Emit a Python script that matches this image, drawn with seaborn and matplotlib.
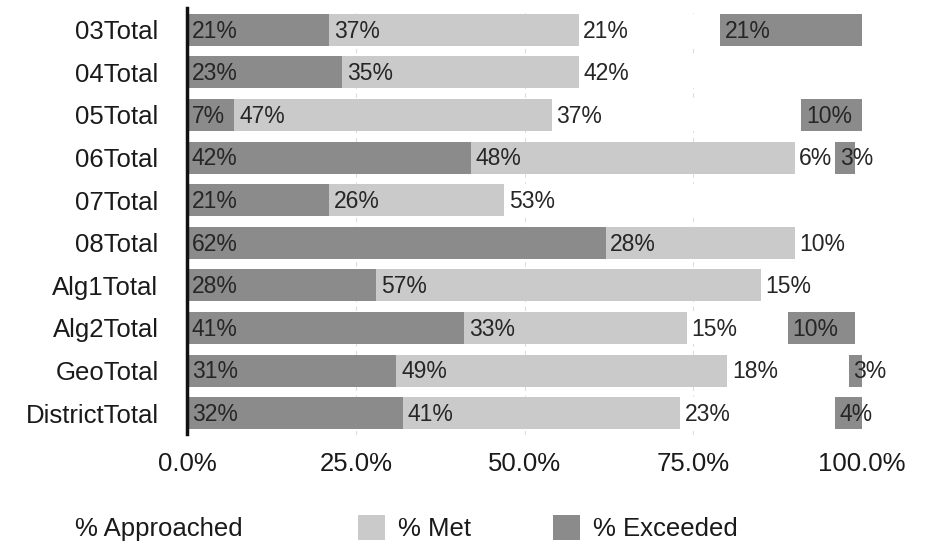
import matplotlib
matplotlib.use("Agg")
import matplotlib.pyplot as plt
import seaborn as sns
import pandas as pd
import numpy as np
from matplotlib.patches import Rectangle

categories = ["03Total", "04Total", "05Total", "06Total", "07Total", "08Total",
              "Alg1Total", "Alg2Total", "GeoTotal", "DistrictTotal"]
seg1 = [21, 23, 7, 42, 21, 62, 28, 41, 31, 32]      # dark, first
seg2 = [37, 35, 47, 48, 26, 28, 57, 33, 49, 41]     # light
seg3 = [21, 42, 37, 6, 53, 10, 15, 15, 18, 23]      # white
seg4 = [21, 0, 10, 3, 0, 0, 0, 10, 3, 4]            # dark, last
xticks = [0, 25, 50, 75, 100]
xticklabels = ["0.0%", "25.0%", "50.0%", "75.0%", "100.0%"]
legend_labels = ["% Approached", "% Met", "% Exceeded"]

DARK = "#8b8b8b"
LIGHT = "#cacaca"
WHITE = "#ffffff"

sns.set_theme(style="white")
plt.rcParams["font.family"] = ["Liberation Sans", "DejaVu Sans"]

fig = plt.figure(figsize=(9.3, 5.48), dpi=100)
ax = fig.add_axes([187/930, 1-434.5/548, 675/930, (434.5-8.5)/548])

segs = [seg1, seg2, seg3, seg4]
colors = [DARK, LIGHT, WHITE, DARK]
cums = np.cumsum(np.array(segs), axis=0)

df = pd.DataFrame({"cat": categories})
for i in range(3, -1, -1):
    df["v"] = cums[i]
    sns.barplot(data=df, x="v", y="cat", orient="h", color=colors[i],
                saturation=1, width=0.75, ax=ax, edgecolor="none", zorder=2)

# labels at start of each segment
for i in range(4):
    starts = cums[i] - np.array(segs[i])
    for j, (s, v) in enumerate(zip(starts, segs[i])):
        if v == 0:
            continue
        ax.annotate(f"{v}%", xy=(s, j), xytext=(3.5, -1), textcoords="offset points",
                    ha="left", va="center", fontsize=16.5, color="#262626",
                    zorder=5, annotation_clip=False)

ax.set_xlim(0, 100)
ax.set_ylim(9.5, -0.5)
ax.set_xticks(xticks)
ax.set_xticklabels(xticklabels)
ax.set_xlabel("")
ax.set_ylabel("")
ax.grid(axis="x", color="#dddddd", linestyle=(0, (4, 4)), linewidth=0.8, zorder=0)
ax.set_axisbelow(True)
for side in ["top", "right", "bottom"]:
    ax.spines[side].set_visible(False)
ax.spines["left"].set_color("#111111")
ax.spines["left"].set_linewidth(2.5)
ax.tick_params(axis="y", length=0, pad=20.5, labelsize=18.5, labelcolor="#1a1a1a")
ax.tick_params(axis="x", length=0, pad=12.5, labelsize=18.5, labelcolor="#1a1a1a")

# legend (manual placement)
leg_items = [(50, WHITE, legend_labels[0]), (358, LIGHT, legend_labels[1]), (553, DARK, legend_labels[2])]
for x0, col, lab in leg_items:
    fig.add_artist(Rectangle((x0/930, 1-540/548), 27/930, 25/548,
                             transform=fig.transFigure, facecolor=col, edgecolor="none"))
    tx = 75 if lab == legend_labels[0] else x0 + 40
    fig.text(tx/930, 1-529/548, lab, ha="left", va="center", fontsize=18.5, color="#1a1a1a")

fig.savefig("out.png", dpi=100)
